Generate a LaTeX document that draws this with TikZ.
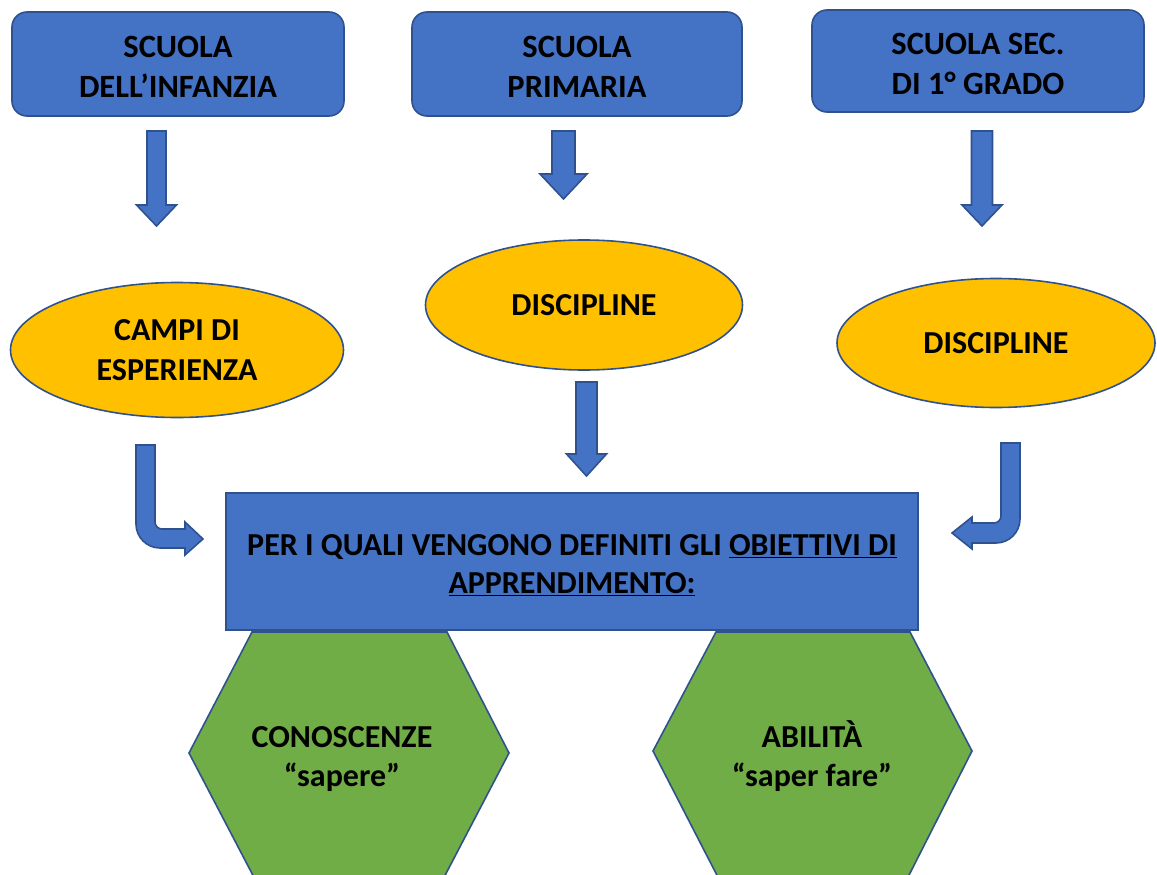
\documentclass[tikz,border=0pt]{standalone}
\usepackage{fontspec}
\setmainfont{Carlito}
\usetikzlibrary{positioning, shapes}

\definecolor{boxBlue}{HTML}{4472C4}
\definecolor{lineBlue}{HTML}{2F528F}
\definecolor{ovalGold}{HTML}{FFC000}
\definecolor{hexGreen}{HTML}{70AD47}

\tikzstyle{schoolBox}=[draw=lineBlue, fill=boxBlue, line width=1.6pt, rounded corners=15pt, minimum height=104pt, inner sep=0pt, align=center, text height=68pt, font=\bfseries\fontsize{32.5}{40}\selectfont]
\tikzstyle{fieldOval}=[ellipse, draw=lineBlue, fill=ovalGold, line width=1.6pt, inner sep=0pt, align=center, font=\bfseries\fontsize{32}{40}\selectfont]
\tikzstyle{goalBox}=[draw=lineBlue, fill=boxBlue, line width=1.6pt, minimum width=692pt, minimum height=137pt, inner sep=0pt, align=center, text height=65.5pt, font=\bfseries\fontsize{32}{38}\selectfont]
\tikzstyle{hexShape}=[draw=lineBlue, fill=hexGreen, line width=1.6pt]
\tikzstyle{hexText}=[inner sep=0pt, align=center, text height=64.5pt, font=\bfseries\fontsize{32}{39}\selectfont]
\tikzstyle{blockArrow}=[draw=lineBlue, fill=boxBlue, line width=1.6pt, line join=miter]

% x centre, top, tip, half shaft, half head, head length
\newcommand{\blockDown}[6]{%
  \draw[blockArrow] (#1-#4,#2) -- (#1+#4,#2) -- (#1+#4,#3-#6) -- (#1+#5,#3-#6)
    -- (#1,#3) -- (#1-#5,#3-#6) -- (#1-#4,#3-#6) -- cycle;}

\begin{document}
\begin{tikzpicture}[x=1pt, y=-1pt]

    \useasboundingbox (0,0) rectangle (1157,875);
    \clip (0,0) rectangle (1157,875);

    % top boxes

    \node[schoolBox, minimum width=332pt] (infanzia) at (178,64) {SCUOLA\\DELL’INFANZIA};
    \node[schoolBox, minimum width=330pt] (primaria) at (577,64) {SCUOLA\\PRIMARIA};
    \node[schoolBox, minimum width=332pt, minimum height=102pt] (secondaria) at (978,61) {SCUOLA SEC.\\DI 1° GRADO};

    % ovals

    \node[fieldOval, minimum width=333pt, minimum height=135pt] (campi) at (177,350) {CAMPI DI\\ESPERIENZA};
    \node[fieldOval, minimum width=317pt, minimum height=130pt] (discA) at (584,305) {DISCIPLINE};
    \node[fieldOval, minimum width=318pt, minimum height=129pt] (discB) at (996,343) {DISCIPLINE};

    % hexagons

    \draw[hexShape] (189,753) -- (252,632) -- (447,632) -- (509,753) -- (440,885) -- (258,885) -- cycle;
    \draw[hexShape] (653,751) -- (716,632) -- (910,632) -- (972,751) -- (904,885) -- (722,885) -- cycle;
    \node[hexText] (sapere) at (342,757) {CONOSCENZE\\“sapere”};
    \node[hexText] (fare) at (812,757) {ABILITÀ\\“saper fare”};

    % goals

    \node[goalBox] (obiettivi) at (572,561.5) {PER I QUALI VENGONO DEFINITI GLI \underline{OBIETTIVI DI}\\\underline{APPRENDIMENTO:}};

    % arrows

    \blockDown{156.5}{131}{226}{9.5}{20}{21}
    \blockDown{563.5}{131}{199}{11.5}{23.5}{25}
    \blockDown{586.5}{382}{476}{10.5}{20}{22}
    \blockDown{982}{131}{226}{10.5}{20}{21}

    \draw[blockArrow] (203,539) -- (185,555) -- (185,548) [rounded corners=24pt] -- (136,548) [sharp corners] -- (136,445)
      -- (155,445) [rounded corners=7pt] -- (155,529) [sharp corners] -- (185,529) -- (185,522) -- cycle;
    \draw[blockArrow] (952,533) -- (972,517) -- (972,523) [rounded corners=7pt] -- (1001,523) [sharp corners] -- (1001,443)
      -- (1020,443) [rounded corners=24pt] -- (1020,543) [sharp corners] -- (972,543) -- (972,549) -- cycle;

\end{tikzpicture}
\end{document}
